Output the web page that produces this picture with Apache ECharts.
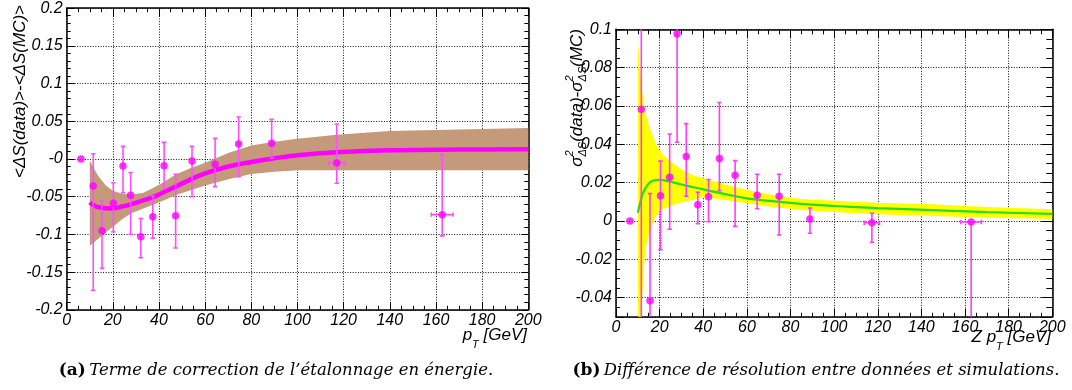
<!DOCTYPE html>
<html>
<head>
<meta charset="utf-8">
<script src="https://cdn.jsdelivr.net/npm/echarts@6/dist/echarts.min.js"></script>
<style>
    html, body { margin: 0; padding: 0; background: #fff; }
    #main { width: 1072px; height: 390px; }
</style>
</head>
<body>
<div id="main"></div>
<script>
// ticks
var xTickVals = [0, 20, 40, 60, 80, 100, 120, 140, 160, 180, 200];
var xTickText = ['0', '20', '40', '60', '80', '100', '120', '140', '160', '180', '200'];
var yTickValsA = [-0.2, -0.15, -0.1, -0.05, 0, 0.05, 0.1, 0.15, 0.2];
var yTickTextA = ['-0.2', '-0.15', '-0.1', '-0.05', '-0', '0.05', '0.1', '0.15', '0.2'];
var yTickValsB = [-0.04, -0.02, 0, 0.02, 0.04, 0.06, 0.08, 0.1];
var yTickTextB = ['-0.04', '-0.02', '0', '0.02', '0.04', '0.06', '0.08', '0.1'];

// (a) points : x, y, upper / lower end of error bar, half width in x
var ptA_x = [6.2, 11.5, 15.3, 20.2, 24.4, 27.7, 32.1, 37.3, 42.2, 47.2, 54.3, 64.3, 74.5, 88.8, 117, 162.7];
var ptA_y = [0, -0.0358, -0.095, -0.0588, -0.0093, -0.0482, -0.103, -0.0765, -0.0089, -0.0752, -0.0027, -0.007, 0.0199, 0.0208, -0.0053, -0.0738];
var ptA_hi = [0, 0.007, -0.0557, -0.0314, 0.0168, -0.018, -0.079, -0.049, 0.022, -0.0203, 0.0168, 0.0274, 0.0557, 0.0526, 0.0464, 0.0062];
var ptA_lo = [0, -0.174, -0.145, -0.0964, -0.0447, -0.0999, -0.131, -0.105, -0.0389, -0.118, -0.05, -0.0367, -0.0235, 0.001, -0.0322, -0.102];
var ptA_xe = [0, 0, 0, 0, 0, 0, 0, 0, 0, 0, 0, 0, 0, 0, 3.6, 4.7];

// (a) fit + band
var bandA_x = [10, 12, 14, 17, 20, 24, 28, 33, 37, 42, 47, 53, 60, 70, 80, 90, 100, 117, 140, 170, 200];
var fitA_y = [-0.0575, -0.062, -0.064, -0.0653, -0.0655, -0.063, -0.060, -0.055, -0.051, -0.044, -0.037, -0.028, -0.019, -0.010, -0.004, 0.001, 0.005, 0.0088, 0.0115, 0.0125, 0.0129];
var bandA_hi = [-0.002, -0.014, -0.024, -0.035, -0.042, -0.046, -0.047, -0.045, -0.039, -0.031, -0.021, -0.013, -0.005, 0.008, 0.018, 0.023, 0.027, 0.032, 0.037, 0.039, 0.041];
var bandA_lo = [-0.115, -0.11, -0.105, -0.097, -0.09, -0.08, -0.072, -0.066, -0.061, -0.055, -0.048, -0.042, -0.035, -0.027, -0.020, -0.017, -0.015, -0.015, -0.015, -0.015, -0.015];

// (b) points
var ptB_x = [6.4, 11.6, 15.6, 20.4, 24.6, 28, 32.2, 37.5, 42.4, 47.4, 54.6, 64.7, 74.8, 88.9, 117.3, 162.8];
var ptB_y = [0, 0.0583, -0.0416, 0.0132, 0.0228, 0.0975, 0.0336, 0.0084, 0.0126, 0.0326, 0.0239, 0.0134, 0.0129, 0.001, -0.0009, -0.0005];
var ptB_hi = [0, 0.12, 0.0143, 0.0312, 0.0454, 0.12, 0.0508, 0.015, 0.0216, 0.0618, 0.0315, 0.0244, 0.0244, 0.0068, 0.004, -0.0005];
var ptB_lo = [0, -0.08, -0.08, -0.015, -0.0043, 0.0411, 0.0129, -0.0014, -0.0004, 0.0158, -0.0028, 0.0064, -0.0073, -0.0064, -0.0111, -0.08];
var ptB_xe = [0, 0, 0, 0, 0, 0, 0, 0, 0, 0, 0, 0, 0, 0, 3.5, 4.7];

// (b) fit + band
var bandB_x = [10, 11, 11.5, 12, 13, 14, 15, 16, 18, 20, 22, 25, 30, 35, 40, 50, 60, 70, 85, 100, 120, 145, 170, 200];
var fitB_y = [0.0043, 0.009, 0.011, 0.0135, 0.016, 0.018, 0.0195, 0.0205, 0.0213, 0.0215, 0.0212, 0.0205, 0.019, 0.0177, 0.0165, 0.014, 0.0118, 0.0105, 0.0089, 0.0078, 0.0067, 0.0057, 0.0046, 0.0037];
var bandB_hi = [0.095, 0.08, 0.073, 0.0675, 0.06, 0.054, 0.05, 0.047, 0.041, 0.037, 0.034, 0.031, 0.027, 0.024, 0.0223, 0.019, 0.0162, 0.014, 0.0115, 0.0105, 0.0095, 0.0087, 0.0073, 0.0061];
var bandB_lo = [-0.07, -0.065, -0.06, -0.04, -0.021, -0.012, -0.0075, -0.004, 0.002, 0.005, 0.0065, 0.0078, 0.0098, 0.011, 0.0125, 0.011, 0.0092, 0.0075, 0.0057, 0.0047, 0.0035, 0.0026, 0.0018, 0.001];

var SANS = '"Liberation Sans", Arial, sans-serif';
var measureCtx = document.createElement('canvas').getContext('2d');
function textW(str, size) {
    measureCtx.font = 'italic ' + size + 'px ' + SANS;
    return measureCtx.measureText(str).width;
}

function zip(xs, ys) {
    return xs.map(function (x, i) { return [x, ys[i]]; });
}
function errData(x, y, lo, hi, xe) {
    return x.map(function (v, i) { return [v, y[i], lo[i], hi[i], xe[i]]; });
}
function tickFmt(vals, texts) {
    return function (v) {
        for (var i = 0; i < vals.length; i++) {
            if (Math.abs(v - vals[i]) < 1e-9) return texts[i];
        }
        return '';
    };
}

//误差带
function bandRender(xs, lo, hi, color) {
    return function (params, api) {
        var pts = [];
        for (var i = 0; i < xs.length; i++) pts.push(api.coord([xs[i], hi[i]]));
        for (var j = xs.length - 1; j >= 0; j--) pts.push(api.coord([xs[j], lo[j]]));
        return { type: 'polygon', shape: { points: pts }, style: { fill: color } };
    };
}
//误差棒
function errRender(color, width, cap) {
    return function (params, api) {
        var x = api.value(0), y = api.value(1), lo = api.value(2), hi = api.value(3), xe = api.value(4);
        var st = { stroke: color, lineWidth: width };
        var ch = [];
        function seg(a, b) {
            ch.push({ type: 'line', shape: { x1: a[0], y1: a[1], x2: b[0], y2: b[1] }, style: st });
        }
        if (hi !== lo) {
            var a = api.coord([x, lo]), b = api.coord([x, hi]);
            seg(a, b);
            seg([a[0] - cap, a[1]], [a[0] + cap, a[1]]);
            seg([b[0] - cap, b[1]], [b[0] + cap, b[1]]);
        }
        if (xe > 0) {
            var l = api.coord([x - xe, y]), r = api.coord([x + xe, y]);
            seg(l, r);
            seg([l[0], l[1] - cap], [l[0], l[1] + cap]);
            seg([r[0], r[1] - cap], [r[0], r[1] + cap]);
        }
        return { type: 'group', children: ch };
    };
}

var gridLine = { show: true, lineStyle: { color: '#111', width: 1, type: [1, 1.6] } };
var labelStyle = { color: '#000', fontFamily: SANS, fontStyle: 'italic', fontSize: 16 };

function makeAxis(dir, grid, pos, range, main, opts) {
    var ax = {
        type: 'value', gridIndex: grid, position: pos,
        min: range[0], max: range[1],
        axisLine: { show: true, onZero: false, lineStyle: { color: '#000', width: 1.5 } },
        axisTick: { show: true, inside: true, length: opts.tick || 8, lineStyle: { color: '#000', width: 1 } },
        minorTick: { show: true, splitNumber: opts.minor, length: opts.minorLen || 4, lineStyle: { color: '#000', width: 1 } },
        splitLine: main ? gridLine : { show: false },
        minorSplitLine: { show: false },
        axisPointer: { show: false },
        axisLabel: main ? Object.assign({
            show: true, margin: opts.margin, formatter: opts.fmt,
            showMinLabel: true, showMaxLabel: true, hideOverlap: false
        }, labelStyle) : { show: false }
    };
    if (opts.interval) ax.interval = opts.interval;
    if (opts.splitNumber) ax.splitNumber = opts.splitNumber;
    return ax;
}

var xFmt = tickFmt(xTickVals, xTickText);
var xAxes = [
    makeAxis('x', 0, 'bottom', [0, 200], true, { interval: 20, minor: 4, margin: 3, fmt: xFmt }),
    makeAxis('x', 0, 'top', [0, 200], false, { interval: 20, minor: 4 }),
    makeAxis('x', 1, 'bottom', [0, 200], true, { interval: 20, minor: 4, margin: 3, fmt: xFmt }),
    makeAxis('x', 1, 'top', [0, 200], false, { interval: 20, minor: 4, tick: 9, minorLen: 5 })
];
var yAxes = [
    makeAxis('y', 0, 'left', [-0.2, 0.2], true, { interval: 0.05, minor: 5, margin: 4, fmt: tickFmt(yTickValsA, yTickTextA) }),
    makeAxis('y', 0, 'right', [-0.2, 0.2], false, { interval: 0.05, minor: 5, tick: 7 }),
    makeAxis('y', 1, 'left', [-0.05, 0.1], true, { splitNumber: 7, minor: 4, margin: 4, fmt: tickFmt(yTickValsB, yTickTextB) }),
    makeAxis('y', 1, 'right', [-0.05, 0.1], false, { splitNumber: 7, minor: 4, tick: 11, minorLen: 6 })
];

// axis titles built from pieces (main text + sub/superscripts)
var T_MAIN = 17, T_SMALL = 11;
function piece(str, x, y, size) {
    return { type: 'text', x: x, y: y, style: { text: str, fill: '#000', font: 'italic ' + size + 'px ' + SANS, textAlign: 'left', textVerticalAlign: 'middle' } };
}
function xTitle(parts, right, midY) {
    // parts: [text, isSub]
    var total = 0;
    parts.forEach(function (p) { total += textW(p[0], p[1] ? T_SMALL : T_MAIN); });
    var x = right - total, ch = [];
    parts.forEach(function (p) {
        var sz = p[1] ? T_SMALL : T_MAIN;
        ch.push(piece(p[0], x, p[1] ? midY + 9 : midY, sz));
        x += textW(p[0], sz);
    });
    return { type: 'group', children: ch };
}

var titleA_x = xTitle([['p', false], ['T', true], [' [GeV]', false]], 527, 335.5);
var titleB_x = xTitle([['Z p', false], ['T', true], [' [GeV]', false]], 1051, 337.5);

var titleA_y = {
    type: 'group', x: 20.5, y: 5, rotation: Math.PI / 2,
    children: [{ type: 'text', x: 0, y: 0, style: { text: '<\u0394S(data)>-<\u0394S(MC)>', fill: '#000', font: 'italic ' + T_MAIN + 'px ' + SANS, textAlign: 'right', textVerticalAlign: 'middle' } }]
};

function sigmaTitle() {
    // σ²_ΔS(data)-σ²_ΔS(MC), rotated, top end at the axis end
    var seq = [['\u03c3', 0], ['2|\u0394S', 1], ['(data)-\u03c3', 0], ['2|\u0394S', 1], ['(MC)', 0]];
    var total = 0;
    seq.forEach(function (s) {
        if (s[1]) {
            var p = s[0].split('|');
            total += Math.max(textW(p[0], T_SMALL), textW(p[1], T_SMALL));
        } else total += textW(s[0], T_MAIN);
    });
    var x = -total, ch = [];
    seq.forEach(function (s) {
        if (s[1]) {
            var p = s[0].split('|');
            ch.push(piece(p[0], x, -7, T_SMALL));
            ch.push(piece(p[1], x, 6, T_SMALL));
            x += Math.max(textW(p[0], T_SMALL), textW(p[1], T_SMALL));
        } else {
            ch.push(piece(s[0], x, 0, T_MAIN));
            x += textW(s[0], T_MAIN);
        }
    });
    return { type: 'group', x: 577, y: 29, rotation: Math.PI / 2, children: ch };
}

var SERIF = '"DejaVu Serif", "Liberation Serif", serif';
function caption(tag, text, cx) {
    return {
        type: 'text', x: cx, y: 371,
        style: {
            text: '{b|(' + tag + ')} {i|' + text + '}',
            textAlign: 'center', textVerticalAlign: 'middle',
            rich: {
                b: { fontFamily: SERIF, fontWeight: 'bold', fontSize: 17, fill: '#000' },
                i: { fontFamily: SERIF, fontStyle: 'italic', fontSize: 16.5, fill: '#000' }
            }
        }
    };
}

var option = {
    animation: false,
    backgroundColor: '#fff',
    grid: [
        { left: 66.7, top: 8.2, width: 461.6, height: 301.6, show: false, containLabel: false, outerBoundsMode: 'none' },
        { left: 616, top: 29.3, width: 436.3, height: 287.5, show: false, containLabel: false, outerBoundsMode: 'none' }
    ],
    xAxis: xAxes,
    yAxis: yAxes,
    series: [
        {
            type: 'custom', xAxisIndex: 0, yAxisIndex: 0, clip: true, z: 1, silent: true,
            data: [[bandA_x[0], fitA_y[0]]],
            renderItem: bandRender(bandA_x, bandA_lo, bandA_hi, '#c49a7b')
        },
        {
            type: 'line', xAxisIndex: 0, yAxisIndex: 0, z: 2, smooth: 0.4, showSymbol: false, silent: true,
            data: zip(bandA_x, fitA_y),
            lineStyle: { color: '#ff00ff', width: 4.5 }
        },
        {
            type: 'custom', xAxisIndex: 0, yAxisIndex: 0, clip: true, z: 3, silent: true,
            encode: { x: 0, y: 1 },
            data: errData(ptA_x, ptA_y, ptA_lo, ptA_hi, ptA_xe),
            renderItem: errRender('#ff4dff', 1.6, 2.2)
        },
        {
            type: 'scatter', xAxisIndex: 0, yAxisIndex: 0, z: 4, silent: true,
            symbol: 'circle', symbolSize: 7.5,
            data: zip(ptA_x, ptA_y),
            itemStyle: { color: '#ff00ff' }
        },
        {
            type: 'custom', xAxisIndex: 2, yAxisIndex: 2, clip: true, z: 1, silent: true,
            data: [[bandB_x[0], fitB_y[0]]],
            renderItem: bandRender(bandB_x, bandB_lo, bandB_hi, '#ffff00')
        },
        {
            type: 'line', xAxisIndex: 2, yAxisIndex: 2, z: 2, smooth: 0.4, showSymbol: false, silent: true,
            data: zip(bandB_x, fitB_y),
            lineStyle: { color: '#22dd22', width: 2.2 }
        },
        {
            type: 'custom', xAxisIndex: 2, yAxisIndex: 2, clip: true, z: 3, silent: true,
            encode: { x: 0, y: 1 },
            data: errData(ptB_x, ptB_y, ptB_lo, ptB_hi, ptB_xe),
            renderItem: errRender('#ff3dff', 1.6, 2.2)
        },
        {
            type: 'scatter', xAxisIndex: 2, yAxisIndex: 2, z: 4, silent: true,
            symbol: 'circle', symbolSize: 7.5,
            data: zip(ptB_x, ptB_y),
            itemStyle: { color: '#ff00ff' }
        }
    ],
    graphic: [
        titleA_x, titleB_x, titleA_y, sigmaTitle(),
        caption('a', 'Terme de correction de l\u2019\u00e9talonnage en \u00e9nergie.', 276),
        caption('b', 'Diff\u00e9rence de r\u00e9solution entre donn\u00e9es et simulations.', 816)
    ]
};

var chart = echarts.init(document.getElementById('main'));
chart.setOption(option);
</script>
</body>
</html>
